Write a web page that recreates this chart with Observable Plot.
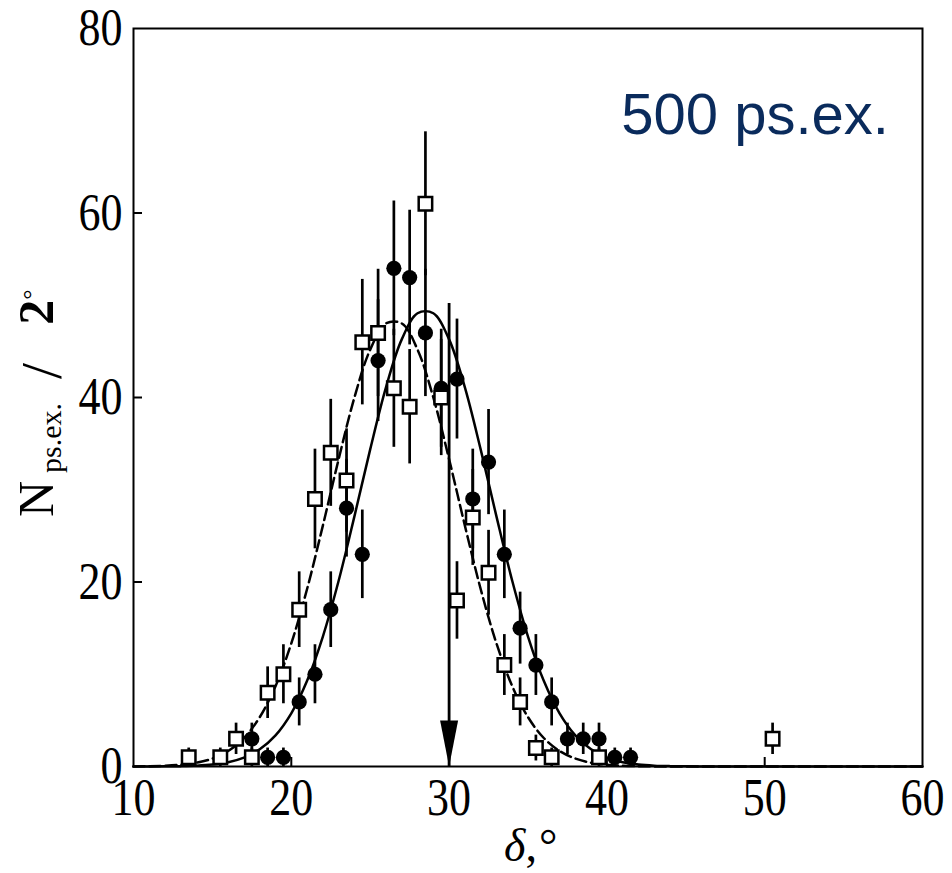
<!DOCTYPE html>
<html>
<head>
<meta charset="utf-8">
<script src="https://cdn.jsdelivr.net/npm/d3@7"></script>
<script src="https://cdn.jsdelivr.net/npm/@observablehq/plot@0.6"></script>
<style>
  html, body { margin: 0; padding: 0; background: #fff; }
  #chart { width: 952px; height: 873px; }
</style>
</head>
<body>
<div id="chart"></div>
<script>
// ---- Data ----
// Filled circles
const circleX = [17.5,18.5,19.5,20.5,21.5,22.5,23.5,24.5,25.5,26.5,27.5,28.5,29.5,30.5,31.5,32.5,33.5,34.5,35.5,36.5,37.5,38.5,39.5,40.5,41.5];
const circleY = [3,1,1,7,10,17,28,23,44,54,53,47,41,42,29,33,23,15,11,7,3,3,3,1,1];
const circleErr = [1.7,1,1,2.6,3.2,4.1,5.3,4.8,6.6,7.3,7.3,6.9,6.4,6.5,5.4,5.7,4.8,3.9,3.3,2.6,1.7,1.7,1.7,1,1];

// Open squares
const squareX = [13.5,15.5,16.5,17.5,18.5,19.5,20.5,21.5,22.5,23.5,24.5,25.5,26.5,27.5,28.5,29.5,30.5,31.5,32.5,33.5,34.5,35.5,36.5,39.5,50.5];
const squareY = [1,1,3,1,8,10,17,29,34,31,46,47,41,39,61,40,18,27,21,11,7,2,1,1,3];
const squareErr = [1,1,1.7,1,2.8,3.2,4.1,5.4,5.8,5.6,6.8,6.9,6.4,6.2,7.8,6.3,4.2,5.2,4.6,3.3,2.6,1.4,1,1,1.7];

// Fit curves
const fitX = [10,11,12,13,14,15,16,17,18,19,20,21,22,23,24,25,26,27,28,29,30,31,32,33,34,35,36,37,38,39,40,41,42,43,44,45,46,47,48,49,50,51,52,53,54,55,56,57,58,59,60];
const fitSolid = [0,0.005,0.015,0.039,0.095,0.22,0.47,0.97,1.87,3.38,5.77,9.29,14.09,20.13,27.11,34.38,41.10,46.30,49.13,49.13,46.30,41.10,34.38,27.11,20.13,14.09,9.29,5.77,3.38,1.87,0.97,0.47,0.22,0.095,0.039,0.015,0.005,0,0,0,0,0,0,0,0,0,0,0,0,0,0];
const fitDashed = [0.012,0.032,0.08,0.19,0.41,0.86,1.68,3.09,5.35,8.71,13.35,19.24,26.11,33.31,40.00,45.19,48.03,48.03,45.19,40.00,33.31,26.11,19.24,13.35,8.71,5.35,3.09,1.68,0.86,0.41,0.19,0.08,0.032,0.012,0,0,0,0,0,0,0,0,0,0,0,0,0,0,0,0,0];

// Arrow marking δ = 30°
const arrowX = [30];
const arrowBottom = [0];
const arrowTop = [50.2];

// Ticks and texts
const xTickValues = [10,20,30,40,50,60];
const yTickValues = [0,20,40,60,80];
const annotationText = "500 ps.ex.";

// ---- Tables built from the arrays ----
const circles = circleX.map((x, i) => ({x, y: circleY[i], lo: circleY[i] - circleErr[i], hi: circleY[i] + circleErr[i]}));
const squares = squareX.map((x, i) => ({x, y: squareY[i], lo: squareY[i] - squareErr[i], hi: squareY[i] + squareErr[i]}));
const fits = fitX.map((x, i) => ({x, solid: fitSolid[i], dashed: fitDashed[i]}));
const arrow = arrowX.map((x, i) => ({x, y1: arrowBottom[i], y2: arrowTop[i]}));

// Narrow filled arrowhead, tip at the anchor point
const arrowHead = {
  draw(ctx) {
    ctx.moveTo(0, 0);
    ctx.lineTo(-9, -46);
    ctx.lineTo(9, -46);
    ctx.closePath();
  }
};

const serif = "'Liberation Serif', 'Times New Roman', serif";

const plot = Plot.plot({
  width: 952,
  height: 873,
  marginLeft: 133,
  marginRight: 30,
  marginTop: 28,
  marginBottom: 107,
  style: {background: "#fff", fontFamily: serif, fontSize: "44px", color: "#000", overflow: "visible"},
  x: {domain: [10, 60], label: null},
  y: {domain: [0, 80], label: null},
  marks: [
    Plot.line(fits, {x: "x", y: "solid", curve: "catmull-rom", stroke: "#000", strokeWidth: 2.5}),
    Plot.line(fits, {x: "x", y: "dashed", curve: "catmull-rom", stroke: "#000", strokeWidth: 2.5, strokeDasharray: "11,5"}),
    Plot.ruleX(arrow, {x: "x", y1: "y1", y2: "y2", stroke: "#000", strokeWidth: 2.8}),
    Plot.dot(arrow, {x: "x", y: "y1", symbol: arrowHead, r: 5, fill: "#000", stroke: "none"}),
    Plot.ruleX(circles, {x: "x", y1: "lo", y2: "hi", stroke: "#000", strokeWidth: 2.7}),
    Plot.dot(circles, {x: "x", y: "y", r: 7.6, fill: "#000", stroke: "none"}),
    Plot.ruleX(squares, {x: "x", y1: "lo", y2: "hi", stroke: "#000", strokeWidth: 2.7}),
    Plot.dot(squares, {x: "x", y: "y", symbol: "square", r: 7.6, fill: "#fff", stroke: "#000", strokeWidth: 2.5}),
    // inward ticks
    Plot.ruleX(xTickValues.slice(1, -1), {x: d => d, y1: 0, y2: 0, insetBottom: 9, stroke: "#000", strokeWidth: 2}),
    Plot.ruleY(yTickValues.slice(1, -1), {y: d => d, x1: 10, x2: 10, insetRight: -9, stroke: "#000", strokeWidth: 2}),
    Plot.axisX({ticks: xTickValues, tickFormat: d => String(d), tickSize: 0, tickPadding: 12, label: null, fontSize: 44, fill: "#000"}),
    Plot.axisY({ticks: yTickValues, tickFormat: d => String(d), tickSize: 0, tickPadding: 11, label: null, fontSize: 44, fill: "#000"}),
    Plot.frame({stroke: "#000", strokeWidth: 2})
  ]
});

document.getElementById("chart").appendChild(plot);

const svg = d3.select(plot);

// Slightly tall serif digits as in the reference
svg.selectAll('g[aria-label="x-axis tick label"] text, g[aria-label="y-axis tick label"] text').each(function () {
  const t = this.getAttribute("transform") || "";
  this.setAttribute("transform", t + " scale(1,1.18)");
});

// Y-axis title: N_{ps.ex.} / 2°
const yl = svg.append("text")
  .attr("transform", "translate(53,517) rotate(-90)")
  .attr("text-anchor", "start")
  .attr("font-family", serif)
  .attr("font-size", 50)
  .attr("fill", "#000");
yl.append("tspan").text("N");
yl.append("tspan").attr("font-size", 30).attr("dx", 8).attr("dy", 8).text("ps.ex.");
yl.append("tspan").attr("font-size", 58).attr("dx", 24).attr("dy", 0).text("/");
yl.append("tspan").attr("font-weight", "bold").attr("dx", 38).attr("dy", -8).text("2");
yl.append("tspan").attr("font-size", 26).attr("dy", -13).text("°");

// X-axis title: δ,°
const xl = svg.append("text")
  .attr("x", 504)
  .attr("y", 861)
  .attr("text-anchor", "start")
  .attr("font-family", serif)
  .attr("font-size", 46)
  .attr("fill", "#000");
xl.append("tspan").attr("font-style", "italic").text("δ");
xl.append("tspan").text(",");
xl.append("tspan").attr("dx", 2).text("°");

// Annotation
svg.append("text")
  .attr("x", 889)
  .attr("y", 134)
  .attr("text-anchor", "end")
  .attr("font-family", "'Liberation Sans', Arial, sans-serif")
  .attr("font-size", 58)
  .attr("fill", "#0a2b5c")
  .text(annotationText);
</script>
</body>
</html>
